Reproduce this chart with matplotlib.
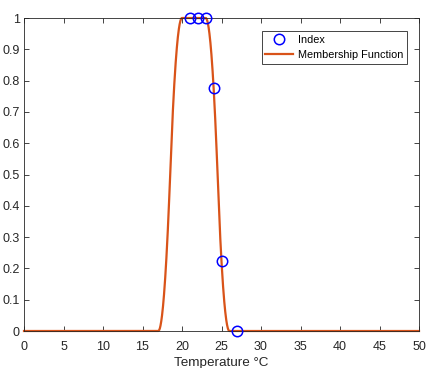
import numpy as np
import matplotlib
matplotlib.use("Agg")
import matplotlib.pyplot as plt

# Sampled temperatures and their membership degree
index_x = [21, 22, 23, 24, 25, 27]
index_y = [1.0, 1.0, 1.0, 0.7778, 0.2222, 0.0]

# Pi-shaped membership function breakpoints [a, b, c, d]
pi_params = [17, 20, 23, 26]

x_ticks = [0, 5, 10, 15, 20, 25, 30, 35, 40, 45, 50]
y_ticks = [0, 0.1, 0.2, 0.3, 0.4, 0.5, 0.6, 0.7, 0.8, 0.9, 1]
y_ticklabels = ["0", "0.1", "0.2", "0.3", "0.4", "0.5", "0.6", "0.7", "0.8", "0.9", "1"]


def pimf(x, a, b, c, d):
    y = np.zeros_like(x)
    m1 = (a + b) / 2
    m2 = (c + d) / 2
    r = (x > a) & (x <= m1)
    y[r] = 2 * ((x[r] - a) / (b - a)) ** 2
    r = (x > m1) & (x < b)
    y[r] = 1 - 2 * ((x[r] - b) / (b - a)) ** 2
    r = (x >= b) & (x <= c)
    y[r] = 1
    r = (x > c) & (x <= m2)
    y[r] = 1 - 2 * ((x[r] - c) / (d - c)) ** 2
    r = (x > m2) & (x < d)
    y[r] = 2 * ((x[r] - d) / (d - c)) ** 2
    return y


plt.rcParams["font.family"] = ["Liberation Sans", "DejaVu Sans"]
axc = "#262626"

fig = plt.figure(figsize=(4.26, 3.68), dpi=100)
ax = fig.add_axes([24 / 426, 37 / 368, 395 / 426, 313 / 368])

xs = np.linspace(0, 50, 2001)
ax.plot(index_x, index_y, "o", mfc="none", mec="#0000ff", mew=1.1, ms=7.5,
        label="Index", zorder=3, clip_on=False)
ax.plot(xs, pimf(xs, *pi_params), color="#D95319", lw=1.6,
        label="Membership Function", zorder=2, clip_on=False)

ax.set_xlim(0, 50)
ax.set_ylim(0, 1)
ax.set_xticks(x_ticks)
ax.set_yticks(y_ticks)
ax.set_yticklabels(y_ticklabels)
ax.tick_params(direction="in", top=True, right=True, length=3.5, width=0.6,
               colors=axc, labelsize=9)
ax.tick_params(axis="x", pad=7.5)
ax.tick_params(axis="y", pad=3)
for s in ax.spines.values():
    s.set_color(axc)
    s.set_linewidth(0.6)
ax.set_xlabel("Temperature °C", fontsize=9.7, color=axc, labelpad=2.5)

leg = ax.legend(loc="upper right", bbox_to_anchor=(0.9696, 0.958), fontsize=7.8,
                frameon=True, fancybox=False, framealpha=1, edgecolor=axc,
                handlelength=2.6, borderpad=0.35, labelspacing=0.45,
                handletextpad=0.4, borderaxespad=0)
leg.get_frame().set_linewidth(0.6)

fig.savefig("out.png", dpi=100)
